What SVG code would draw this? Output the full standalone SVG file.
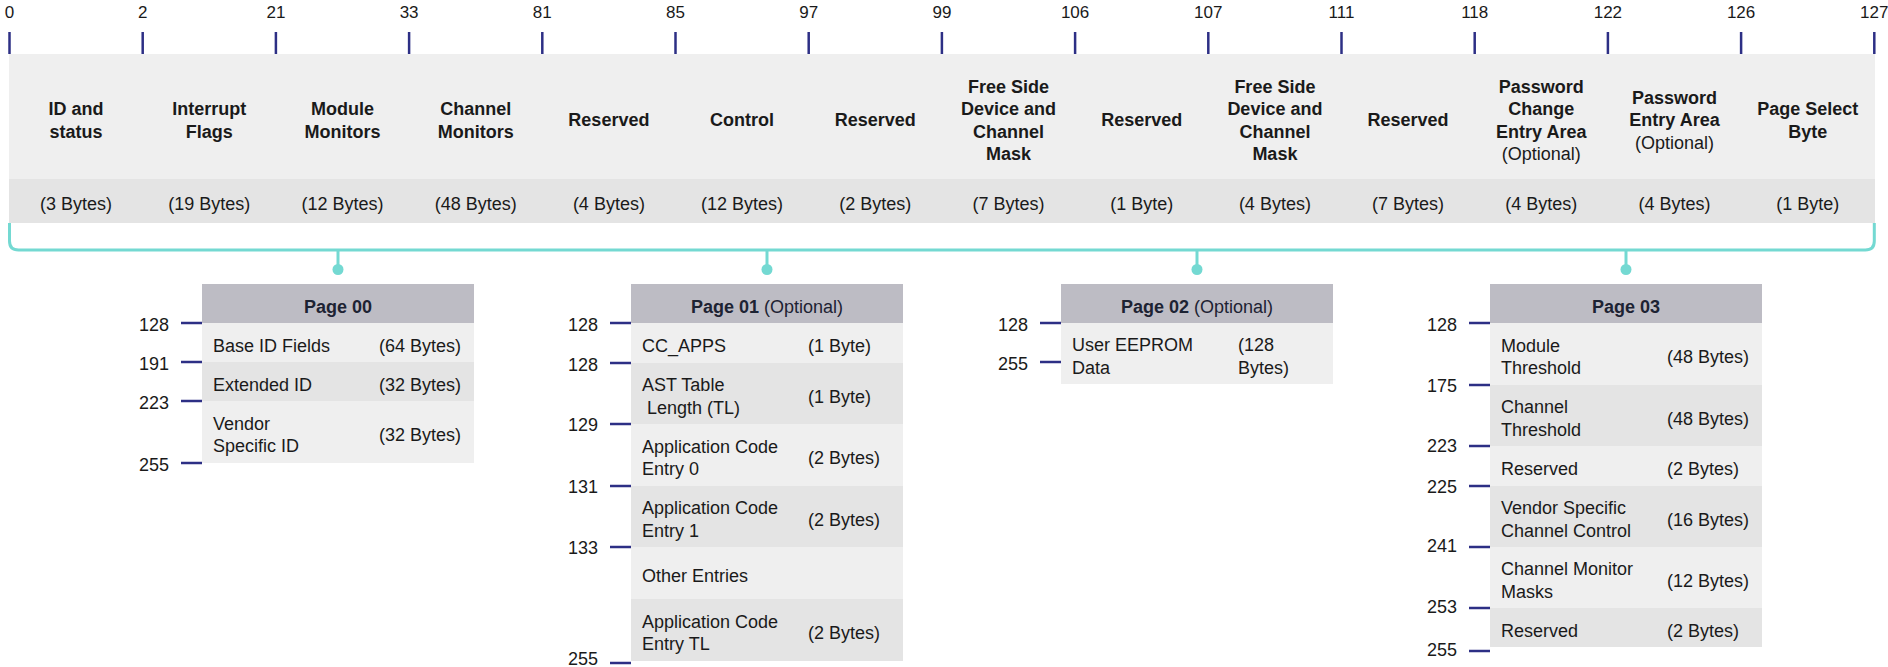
<svg xmlns="http://www.w3.org/2000/svg" width="1888" height="667" viewBox="0 0 1888 667">
<style>
  text { font-family: "Liberation Sans", Arial, Helvetica, sans-serif; fill: #1a1a1a; }
  .num { font-size: 17px; text-anchor: middle; }
  .lbl { font-size: 18px; font-weight: bold; text-anchor: middle; }
  .opt { font-weight: normal; }
  .bytes { font-size: 18px; text-anchor: middle; }
  .row { font-size: 18px; }
  .side { font-size: 18px; text-anchor: end; }
  .hdr { font-size: 18px; text-anchor: middle; fill: #1d2333; }
  .hdr tspan.b { font-weight: bold; }
  .tick { stroke: #2d2f85; stroke-width: 2.5; fill: none; }
  .light { fill: #efefef; }
  .dark { fill: #e4e4e4; }
  .head { fill: #bdbcc4; }
  .conn { stroke: #74d9d2; stroke-width: 3; fill: none; }
  .dot { fill: #74d9d2; }
</style>

<g id="lower-memory-scale">
  <g class="num">
    <text x="9.5" y="18">0</text>
    <text x="142.7" y="18">2</text>
    <text x="275.9" y="18">21</text>
    <text x="409.1" y="18">33</text>
    <text x="542.3" y="18">81</text>
    <text x="675.5" y="18">85</text>
    <text x="808.7" y="18">97</text>
    <text x="941.9" y="18">99</text>
    <text x="1075.1" y="18">106</text>
    <text x="1208.3" y="18">107</text>
    <text x="1341.5" y="18">111</text>
    <text x="1474.7" y="18">118</text>
    <text x="1607.9" y="18">122</text>
    <text x="1741.1" y="18">126</text>
    <text x="1874.3" y="18">127</text>
  </g>
  <g class="tick">
    <line x1="9.5" y1="32" x2="9.5" y2="54"/>
    <line x1="142.7" y1="32" x2="142.7" y2="54"/>
    <line x1="275.9" y1="32" x2="275.9" y2="54"/>
    <line x1="409.1" y1="32" x2="409.1" y2="54"/>
    <line x1="542.3" y1="32" x2="542.3" y2="54"/>
    <line x1="675.5" y1="32" x2="675.5" y2="54"/>
    <line x1="808.7" y1="32" x2="808.7" y2="54"/>
    <line x1="941.9" y1="32" x2="941.9" y2="54"/>
    <line x1="1075.1" y1="32" x2="1075.1" y2="54"/>
    <line x1="1208.3" y1="32" x2="1208.3" y2="54"/>
    <line x1="1341.5" y1="32" x2="1341.5" y2="54"/>
    <line x1="1474.7" y1="32" x2="1474.7" y2="54"/>
    <line x1="1607.9" y1="32" x2="1607.9" y2="54"/>
    <line x1="1741.1" y1="32" x2="1741.1" y2="54"/>
    <line x1="1874.3" y1="32" x2="1874.3" y2="54"/>
  </g>
</g>

<g id="lower-memory">
  <rect class="light" x="9" y="54" width="1866" height="125"/>
  <rect class="dark" x="9" y="179" width="1866" height="44"/>

  <g id="f-id-status">
    <text class="lbl" x="76.1" y="115.2">ID and</text>
    <text class="lbl" x="76.1" y="137.5">status</text>
    <text class="bytes" x="76.1" y="210">(3 Bytes)</text>
  </g>
  <g id="f-interrupt">
    <text class="lbl" x="209.3" y="115.2">Interrupt</text>
    <text class="lbl" x="209.3" y="137.5">Flags</text>
    <text class="bytes" x="209.3" y="210">(19 Bytes)</text>
  </g>
  <g id="f-module-monitors">
    <text class="lbl" x="342.5" y="115.2">Module</text>
    <text class="lbl" x="342.5" y="137.5">Monitors</text>
    <text class="bytes" x="342.5" y="210">(12 Bytes)</text>
  </g>
  <g id="f-channel-monitors">
    <text class="lbl" x="475.7" y="115.2">Channel</text>
    <text class="lbl" x="475.7" y="137.5">Monitors</text>
    <text class="bytes" x="475.7" y="210">(48 Bytes)</text>
  </g>
  <g id="f-reserved-1">
    <text class="lbl" x="608.9" y="126.3">Reserved</text>
    <text class="bytes" x="608.9" y="210">(4 Bytes)</text>
  </g>
  <g id="f-control">
    <text class="lbl" x="742.1" y="126.3">Control</text>
    <text class="bytes" x="742.1" y="210">(12 Bytes)</text>
  </g>
  <g id="f-reserved-2">
    <text class="lbl" x="875.3" y="126.3">Reserved</text>
    <text class="bytes" x="875.3" y="210">(2 Bytes)</text>
  </g>
  <g id="f-free-side-1">
    <text class="lbl" x="1008.5" y="92.8">Free Side</text>
    <text class="lbl" x="1008.5" y="115.2">Device and</text>
    <text class="lbl" x="1008.5" y="137.5">Channel</text>
    <text class="lbl" x="1008.5" y="159.8">Mask</text>
    <text class="bytes" x="1008.5" y="210">(7 Bytes)</text>
  </g>
  <g id="f-reserved-3">
    <text class="lbl" x="1141.7" y="126.3">Reserved</text>
    <text class="bytes" x="1141.7" y="210">(1 Byte)</text>
  </g>
  <g id="f-free-side-2">
    <text class="lbl" x="1274.9" y="92.8">Free Side</text>
    <text class="lbl" x="1274.9" y="115.2">Device and</text>
    <text class="lbl" x="1274.9" y="137.5">Channel</text>
    <text class="lbl" x="1274.9" y="159.8">Mask</text>
    <text class="bytes" x="1274.9" y="210">(4 Bytes)</text>
  </g>
  <g id="f-reserved-4">
    <text class="lbl" x="1408.1" y="126.3">Reserved</text>
    <text class="bytes" x="1408.1" y="210">(7 Bytes)</text>
  </g>
  <g id="f-password-change">
    <text class="lbl" x="1541.3" y="92.8">Password</text>
    <text class="lbl" x="1541.3" y="115.2">Change</text>
    <text class="lbl" x="1541.3" y="137.5">Entry Area</text>
    <text class="lbl opt" x="1541.3" y="159.8">(Optional)</text>
    <text class="bytes" x="1541.3" y="210">(4 Bytes)</text>
  </g>
  <g id="f-password-entry">
    <text class="lbl" x="1674.5" y="104">Password</text>
    <text class="lbl" x="1674.5" y="126.3">Entry Area</text>
    <text class="lbl opt" x="1674.5" y="148.6">(Optional)</text>
    <text class="bytes" x="1674.5" y="210">(4 Bytes)</text>
  </g>
  <g id="f-page-select">
    <text class="lbl" x="1807.7" y="115.2">Page Select</text>
    <text class="lbl" x="1807.7" y="137.5">Byte</text>
    <text class="bytes" x="1807.7" y="210">(1 Byte)</text>
  </g>
</g>

<g id="connectors">
  <path class="conn" d="M 9.5 223 V 241 Q 9.5 250 18.5 250 H 1865.3 Q 1874.3 250 1874.3 241 V 223"/>
  <line class="conn" x1="338" y1="250" x2="338" y2="269"/>
  <line class="conn" x1="767" y1="250" x2="767" y2="269"/>
  <line class="conn" x1="1197" y1="250" x2="1197" y2="269"/>
  <line class="conn" x1="1626" y1="250" x2="1626" y2="269"/>
  <circle class="dot" cx="338" cy="269.5" r="5.5"/>
  <circle class="dot" cx="767" cy="269.5" r="5.5"/>
  <circle class="dot" cx="1197" cy="269.5" r="5.5"/>
  <circle class="dot" cx="1626" cy="269.5" r="5.5"/>
</g>

<g id="page00">
  <rect class="head" x="202" y="284" width="272" height="39"/>
  <rect class="light" x="202" y="323" width="272" height="39"/>
  <rect class="dark" x="202" y="362" width="272" height="39"/>
  <rect class="light" x="202" y="401" width="272" height="62"/>
  <text class="hdr" x="338" y="313"><tspan class="b">Page 00</tspan></text>
  <text class="row" x="213" y="351.5">Base ID Fields</text>
  <text class="row" x="379" y="351.5">(64 Bytes)</text>
  <text class="row" x="213" y="390.5">Extended ID</text>
  <text class="row" x="379" y="390.5">(32 Bytes)</text>
  <text class="row" x="213" y="429.8">Vendor</text>
  <text class="row" x="213" y="452.2">Specific ID</text>
  <text class="row" x="379" y="441">(32 Bytes)</text>
  <g class="tick">
    <line x1="181" y1="323" x2="202" y2="323"/>
    <line x1="181" y1="362" x2="202" y2="362"/>
    <line x1="181" y1="401" x2="202" y2="401"/>
    <line x1="181" y1="463" x2="202" y2="463"/>
  </g>
  <text class="side" x="169" y="330.5">128</text>
  <text class="side" x="169" y="369.5">191</text>
  <text class="side" x="169" y="408.5">223</text>
  <text class="side" x="169" y="470.5">255</text>
</g>

<g id="page01">
  <rect class="head" x="631" y="284" width="272" height="39"/>
  <rect class="light" x="631" y="323" width="272" height="40"/>
  <rect class="dark" x="631" y="363" width="272" height="61"/>
  <rect class="light" x="631" y="424" width="272" height="62"/>
  <rect class="dark" x="631" y="486" width="272" height="61"/>
  <rect class="light" x="631" y="547" width="272" height="52"/>
  <rect class="dark" x="631" y="599" width="272" height="62"/>
  <text class="hdr" x="767" y="313"><tspan class="b">Page 01</tspan> (Optional)</text>
  <text class="row" x="642" y="352">CC_APPS</text>
  <text class="row" x="808" y="352">(1 Byte)</text>
  <text class="row" x="642" y="391.3">AST Table</text>
  <text class="row" x="642" y="413.7" xml:space="preserve" style="white-space:pre"> Length (TL)</text>
  <text class="row" x="808" y="402.5">(1 Byte)</text>
  <text class="row" x="642" y="452.8">Application Code</text>
  <text class="row" x="642" y="475.2">Entry 0</text>
  <text class="row" x="808" y="464">(2 Bytes)</text>
  <text class="row" x="642" y="514.3">Application Code</text>
  <text class="row" x="642" y="536.7">Entry 1</text>
  <text class="row" x="808" y="525.5">(2 Bytes)</text>
  <text class="row" x="642" y="582">Other Entries</text>
  <text class="row" x="642" y="627.8">Application Code</text>
  <text class="row" x="642" y="650.2">Entry TL</text>
  <text class="row" x="808" y="639">(2 Bytes)</text>
  <g class="tick">
    <line x1="610" y1="323" x2="631" y2="323"/>
    <line x1="610" y1="363" x2="631" y2="363"/>
    <line x1="610" y1="424" x2="631" y2="424"/>
    <line x1="610" y1="486" x2="631" y2="486"/>
    <line x1="610" y1="547" x2="631" y2="547"/>
    <line x1="610" y1="663" x2="631" y2="663"/>
  </g>
  <text class="side" x="598" y="330.5">128</text>
  <text class="side" x="598" y="370.5">128</text>
  <text class="side" x="598" y="431">129</text>
  <text class="side" x="598" y="493">131</text>
  <text class="side" x="598" y="554">133</text>
  <text class="side" x="598" y="665">255</text>
</g>

<g id="page02">
  <rect class="head" x="1061" y="284" width="272" height="39"/>
  <rect class="light" x="1061" y="323" width="272" height="61"/>
  <text class="hdr" x="1197" y="313"><tspan class="b">Page 02</tspan> (Optional)</text>
  <text class="row" x="1072" y="351.3">User EEPROM</text>
  <text class="row" x="1072" y="373.7">Data</text>
  <text class="row" x="1238" y="351.3">(128</text>
  <text class="row" x="1238" y="373.7">Bytes)</text>
  <g class="tick">
    <line x1="1040" y1="323" x2="1061" y2="323"/>
    <line x1="1040" y1="362" x2="1061" y2="362"/>
  </g>
  <text class="side" x="1028" y="330.5">128</text>
  <text class="side" x="1028" y="369.5">255</text>
</g>

<g id="page03">
  <rect class="head" x="1490" y="284" width="272" height="39"/>
  <rect class="light" x="1490" y="323" width="272" height="62"/>
  <rect class="dark" x="1490" y="385" width="272" height="61"/>
  <rect class="light" x="1490" y="446" width="272" height="40"/>
  <rect class="dark" x="1490" y="486" width="272" height="61"/>
  <rect class="light" x="1490" y="547" width="272" height="61"/>
  <rect class="dark" x="1490" y="608" width="272" height="39"/>
  <text class="hdr" x="1626" y="313"><tspan class="b">Page 03</tspan></text>
  <text class="row" x="1501" y="351.8">Module</text>
  <text class="row" x="1501" y="374.2">Threshold</text>
  <text class="row" x="1667" y="363">(48 Bytes)</text>
  <text class="row" x="1501" y="413.3">Channel</text>
  <text class="row" x="1501" y="435.7">Threshold</text>
  <text class="row" x="1667" y="424.5">(48 Bytes)</text>
  <text class="row" x="1501" y="475">Reserved</text>
  <text class="row" x="1667" y="475">(2 Bytes)</text>
  <text class="row" x="1501" y="514.3">Vendor Specific</text>
  <text class="row" x="1501" y="536.7">Channel Control</text>
  <text class="row" x="1667" y="525.5">(16 Bytes)</text>
  <text class="row" x="1501" y="575.3">Channel Monitor</text>
  <text class="row" x="1501" y="597.7">Masks</text>
  <text class="row" x="1667" y="586.5">(12 Bytes)</text>
  <text class="row" x="1501" y="636.5">Reserved</text>
  <text class="row" x="1667" y="636.5">(2 Bytes)</text>
  <g class="tick">
    <line x1="1469" y1="323" x2="1490" y2="323"/>
    <line x1="1469" y1="385" x2="1490" y2="385"/>
    <line x1="1469" y1="446" x2="1490" y2="446"/>
    <line x1="1469" y1="486" x2="1490" y2="486"/>
    <line x1="1469" y1="547" x2="1490" y2="547"/>
    <line x1="1469" y1="608" x2="1490" y2="608"/>
    <line x1="1469" y1="651" x2="1490" y2="651"/>
  </g>
  <text class="side" x="1457" y="330.5">128</text>
  <text class="side" x="1457" y="391.5">175</text>
  <text class="side" x="1457" y="452">223</text>
  <text class="side" x="1457" y="493">225</text>
  <text class="side" x="1457" y="552">241</text>
  <text class="side" x="1457" y="612.5">253</text>
  <text class="side" x="1457" y="655.5">255</text>
</g>
</svg>
